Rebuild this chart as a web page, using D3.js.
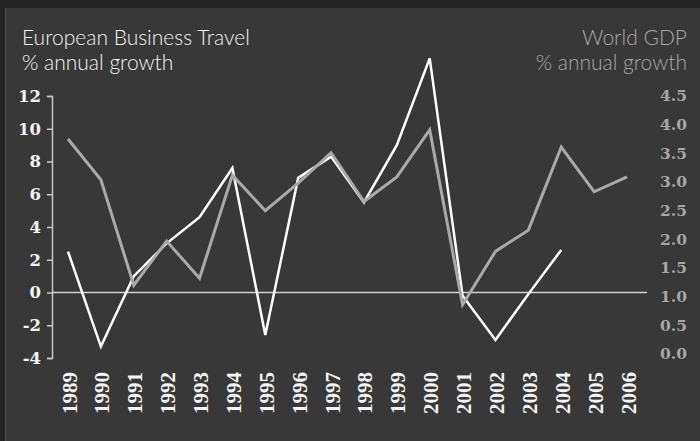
<!DOCTYPE html>
<html>
<head>
<meta charset="utf-8">
<script src="https://cdn.jsdelivr.net/npm/d3@7"></script>
<style>
  html, body { margin: 0; padding: 0; background: #242424; }
  svg { display: block; }
</style>
</head>
<body>
<svg id="chart" width="700" height="441"></svg>
<script>
// ---- data ----
const years = ["1989","1990","1991","1992","1993","1994","1995","1996","1997","1998",
               "1999","2000","2001","2002","2003","2004","2005","2006"];
const businessTravel = [2.5, -3.3, 1.0, 3.0, 4.6, 7.6, -2.6, 7.0, 8.3, 5.5,
                        9.0, 14.3, -0.2, -2.9, -0.1, 2.6, null, null];
const worldGDP = [3.75, 3.04, 1.2, 1.97, 1.32, 3.12, 2.5, 2.98, 3.51, 2.66,
                  3.09, 3.91, 0.86, 1.79, 2.16, 3.61, 2.83, 3.09];
const leftTicks = [-4, -2, 0, 2, 4, 6, 8, 10, 12];
const rightTicks = [0, 0.5, 1, 1.5, 2, 2.5, 3, 3.5, 4, 4.5];
const leftTitle = ["European Business Travel", "% annual growth"];
const rightTitle = ["World GDP", "% annual growth"];

// ---- layout ----
const W = 700, H = 441;
const svg = d3.select("#chart");

// panel background
svg.append("rect").attr("x", 0).attr("y", 0).attr("width", W).attr("height", H).attr("fill", "#242424");
svg.append("rect").attr("x", 5).attr("y", 8).attr("width", W - 5).attr("height", H - 8).attr("fill", "#383838");
svg.append("line").attr("x1", 5.5).attr("x2", 5.5).attr("y1", 8).attr("y2", H)
  .attr("stroke", "#4e4e4e").attr("stroke-width", 1);

const x = d3.scalePoint().domain(years).range([68, 627]);
const yL = d3.scaleLinear().domain([-4, 12]).range([358, 96]);
const yR = d3.scaleLinear().domain([0, 4.5]).range([354, 96]);

// titles
const titleFont = "Lato, 'Open Sans', sans-serif";
const lt = svg.append("text").attr("x", 22).attr("y", 45)
  .attr("fill", "#f2f2f2").attr("font-family", titleFont).attr("font-weight", 300)
  .attr("font-size", 21);
lt.selectAll("tspan").data(leftTitle).join("tspan")
  .attr("x", 22).attr("dy", (d, i) => i ? 25 : 0).text(d => d);

const rt = svg.append("text").attr("x", 687).attr("y", 45)
  .attr("fill", "#a6a6a6").attr("font-family", titleFont).attr("font-weight", 300)
  .attr("font-size", 21).attr("text-anchor", "end");
rt.selectAll("tspan").data(rightTitle).join("tspan")
  .attr("x", 687).attr("dy", (d, i) => i ? 25 : 0).text(d => d);

// left axis
const axL = svg.append("g").attr("transform", "translate(52,0)")
  .call(d3.axisLeft(yL).tickValues(leftTicks).tickSize(5).tickPadding(6).tickSizeOuter(5)
        .tickFormat(d => String(d)));
axL.select(".domain").attr("stroke", "#c8c8c8").attr("stroke-width", 1.5);
axL.selectAll(".tick line").attr("stroke", "#c8c8c8").attr("stroke-width", 1.5);
axL.selectAll(".tick text").attr("fill", "#f2f2f2")
  .attr("font-family", "'DejaVu Serif', serif").attr("font-weight", "bold").attr("font-size", 16.5);

// right axis (labels only)
const axR = svg.append("g").attr("transform", "translate(687,0)")
  .call(d3.axisRight(yR).tickValues(rightTicks).tickSize(0).tickPadding(0)
        .tickFormat(d => d.toFixed(1)));
axR.select(".domain").remove();
axR.selectAll(".tick text").attr("fill", "#a6a6a6").attr("text-anchor", "end")
  .attr("font-family", "'DejaVu Serif', serif").attr("font-weight", "bold").attr("font-size", 15.5);

// zero line
svg.append("line").attr("x1", 52).attr("x2", 647)
  .attr("y1", yL(0)).attr("y2", yL(0))
  .attr("stroke", "#d0d0d0").attr("stroke-width", 1.5);

// x labels
svg.append("g").selectAll("text").data(years).join("text")
  .attr("transform", d => `translate(${x(d) + 8.5},372) rotate(-90)`)
  .attr("text-anchor", "end")
  .attr("fill", "#f5f5f5")
  .attr("font-family", "'Liberation Serif', 'Times New Roman', serif")
  .attr("font-weight", "bold").attr("font-size", 21)
  .text(d => d);

// lines
const lineL = d3.line().defined(d => d[1] != null).x(d => x(d[0])).y(d => yL(d[1]));
const lineR = d3.line().defined(d => d[1] != null).x(d => x(d[0])).y(d => yR(d[1]));

svg.append("path").datum(years.map((y, i) => [y, businessTravel[i]]))
  .attr("d", lineL).attr("fill", "none").attr("stroke", "#ffffff")
  .attr("stroke-width", 2.5).attr("stroke-linejoin", "miter");

svg.append("path").datum(years.map((y, i) => [y, worldGDP[i]]))
  .attr("d", lineR).attr("fill", "none").attr("stroke", "#a9a9a9")
  .attr("stroke-width", 3).attr("stroke-linejoin", "miter");
</script>
</body>
</html>
